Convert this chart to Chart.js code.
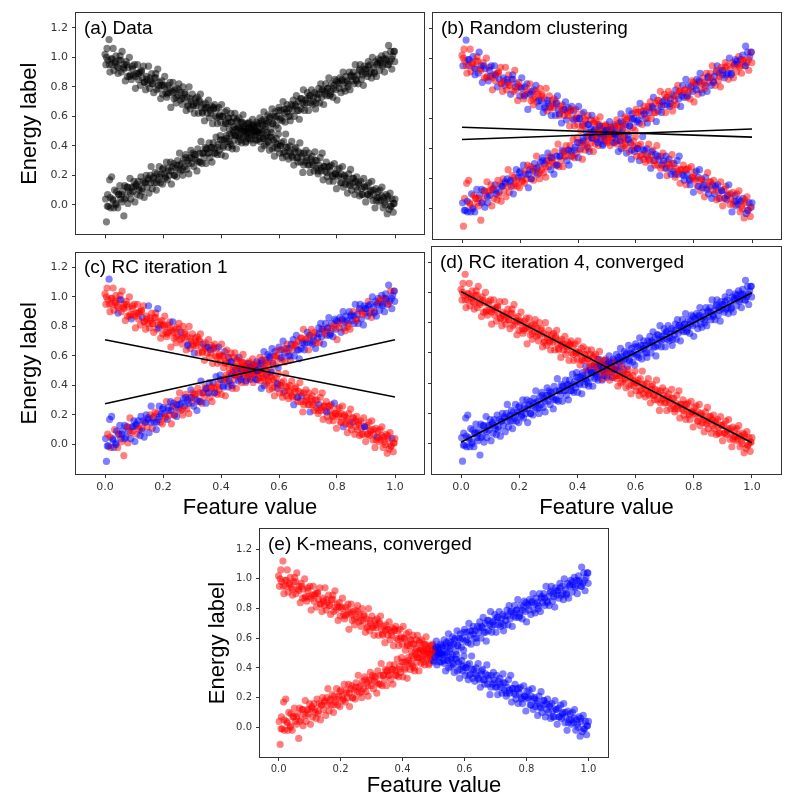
<!DOCTYPE html>
<html>
<head>
<meta charset="utf-8">
<title>Regression clustering panels</title>
<script src="https://cdn.jsdelivr.net/npm/chart.js@4.4.1/dist/chart.umd.min.js"></script>
<style>
    html, body { margin: 0; padding: 0; background: #fff; }
    body { position: relative; width: 791px; height: 812px; overflow: hidden; }
    canvas { position: absolute; display: block; }
</style>
</head>
<body>
<script>
// descending arm, [feature value, energy label]
const downArm = [
    [0.000,1.02],[0.003,0.95],[0.007,1.06],[0.010,0.98],[0.014,1.12],[0.017,0.90],[0.021,0.99],[0.024,0.95],[0.028,1.06],[0.031,0.91],
    [0.035,0.97],[0.038,1.01],[0.042,0.94],[0.045,0.89],[0.049,0.98],[0.052,1.01],[0.056,0.90],[0.059,1.04],[0.063,0.93],[0.066,0.95],
    [0.070,0.84],[0.073,0.97],[0.077,0.87],[0.080,0.93],[0.084,1.00],[0.087,0.88],[0.091,0.85],[0.094,0.94],[0.098,0.88],[0.101,0.95],
    [0.105,0.79],[0.108,0.89],[0.112,0.95],[0.115,0.85],[0.119,0.90],[0.122,0.81],[0.126,0.91],[0.129,0.86],[0.133,0.94],[0.136,0.83],
    [0.140,0.78],[0.143,0.87],[0.147,0.82],[0.150,0.94],[0.154,0.79],[0.157,0.84],[0.161,0.89],[0.164,0.82],[0.168,0.76],[0.171,0.86],
    [0.175,0.89],[0.178,0.78],[0.182,0.92],[0.185,0.81],[0.189,0.83],[0.192,0.72],[0.196,0.84],[0.199,0.75],[0.203,0.81],[0.206,0.87],
    [0.210,0.76],[0.213,0.73],[0.217,0.81],[0.220,0.76],[0.224,0.83],[0.227,0.66],[0.231,0.77],[0.234,0.83],[0.238,0.72],[0.241,0.78],
    [0.245,0.69],[0.248,0.79],[0.252,0.74],[0.255,0.82],[0.259,0.71],[0.262,0.76],[0.266,0.68],[0.269,0.80],[0.273,0.72],[0.276,0.76],
    [0.280,0.64],[0.283,0.73],[0.287,0.68],[0.290,0.80],[0.294,0.65],[0.297,0.70],[0.301,0.75],[0.304,0.68],[0.308,0.62],[0.311,0.72],
    [0.315,0.67],[0.318,0.73],[0.322,0.62],[0.325,0.71],[0.329,0.75],[0.332,0.66],[0.336,0.62],[0.339,0.68],[0.343,0.57],[0.346,0.69],
    [0.350,0.66],[0.353,0.62],[0.357,0.71],[0.360,0.59],[0.364,0.64],[0.367,0.67],[0.371,0.55],[0.374,0.65],[0.378,0.68],[0.381,0.60],
    [0.385,0.65],[0.388,0.55],[0.392,0.66],[0.395,0.60],[0.399,0.56],[0.402,0.68],[0.406,0.60],[0.409,0.52],[0.413,0.63],[0.416,0.56],
    [0.420,0.64],[0.423,0.55],[0.427,0.59],[0.430,0.48],[0.434,0.62],[0.437,0.56],[0.441,0.51],[0.444,0.59],[0.448,0.62],[0.451,0.51],
    [0.455,0.57],[0.458,0.53],[0.462,0.59],[0.465,0.48],[0.469,0.56],[0.472,0.50],[0.476,0.61],[0.479,0.50],[0.483,0.53],[0.486,0.43],
    [0.490,0.55],[0.493,0.49],[0.497,0.56],[0.500,0.45],[0.504,0.51],[0.507,0.52],[0.511,0.42],[0.514,0.54],[0.518,0.47],[0.521,0.50],
    [0.525,0.44],[0.528,0.54],[0.532,0.45],[0.535,0.48],[0.539,0.38],[0.542,0.50],[0.546,0.45],[0.549,0.40],[0.553,0.53],[0.556,0.41],
    [0.560,0.49],[0.563,0.43],[0.567,0.37],[0.570,0.46],[0.574,0.49],[0.577,0.38],[0.581,0.44],[0.584,0.33],[0.588,0.42],[0.591,0.45],
    [0.595,0.38],[0.598,0.48],[0.602,0.35],[0.605,0.40],[0.609,0.42],[0.612,0.32],[0.616,0.43],[0.619,0.36],[0.623,0.48],[0.626,0.33],
    [0.630,0.39],[0.633,0.31],[0.637,0.40],[0.640,0.35],[0.644,0.43],[0.647,0.32],[0.651,0.27],[0.654,0.36],[0.658,0.39],[0.661,0.32],
    [0.665,0.29],[0.668,0.36],[0.672,0.42],[0.675,0.29],[0.679,0.33],[0.682,0.22],[0.686,0.35],[0.689,0.29],[0.693,0.37],[0.696,0.30],
    [0.700,0.27],[0.703,0.35],[0.707,0.22],[0.710,0.31],[0.714,0.33],[0.717,0.27],[0.721,0.23],[0.724,0.36],[0.728,0.25],[0.731,0.30],
    [0.735,0.21],[0.738,0.27],[0.742,0.32],[0.745,0.23],[0.749,0.35],[0.752,0.17],[0.756,0.26],[0.759,0.23],[0.763,0.29],[0.766,0.19],
    [0.770,0.26],[0.773,0.16],[0.777,0.23],[0.780,0.27],[0.784,0.20],[0.787,0.16],[0.791,0.28],[0.794,0.21],[0.798,0.11],[0.801,0.24],
    [0.805,0.19],[0.808,0.25],[0.812,0.15],[0.815,0.21],[0.819,0.26],[0.822,0.12],[0.826,0.20],[0.829,0.14],[0.833,0.18],[0.836,0.08],
    [0.840,0.21],[0.843,0.14],[0.847,0.24],[0.850,0.10],[0.854,0.15],[0.857,0.18],[0.861,0.07],[0.864,0.16],[0.868,0.19],[0.871,0.10],
    [0.875,0.14],[0.878,0.06],[0.882,0.16],[0.885,0.11],[0.889,0.07],[0.892,0.18],[0.896,0.12],[0.899,0.02],[0.903,0.13],[0.906,0.07],
    [0.910,0.15],[0.913,0.06],[0.917,0.10],[0.920,0.16],[0.924,0.03],[0.927,0.07],[0.931,-0.02],[0.934,0.11],[0.938,0.05],[0.941,0.09],
    [0.945,0.02],[0.948,0.10],[0.952,0.03],[0.955,0.12],[0.959,-0.02],[0.962,0.05],[0.966,0.00],[0.969,0.07],[0.973,-0.06],[0.976,0.04],
    [0.980,-0.03],[0.983,0.08],[0.987,-0.01],[0.990,0.04],[0.994,-0.05],[0.997,0.01],[1.000,0.04]
];

// denser middle of the descending band
const downCore = [
    [0.005,1.00],[0.015,0.95],[0.025,0.99],[0.035,0.96],[0.045,0.93],[0.055,0.98],[0.065,0.92],[0.075,0.95],[0.085,0.87],[0.095,0.92],
    [0.105,0.87],[0.115,0.89],[0.125,0.90],[0.135,0.83],[0.145,0.85],[0.155,0.86],[0.165,0.82],[0.175,0.86],[0.185,0.79],[0.195,0.81],
    [0.205,0.80],[0.215,0.75],[0.225,0.79],[0.235,0.76],[0.245,0.73],[0.255,0.78],[0.265,0.72],[0.275,0.75],[0.285,0.67],[0.295,0.72],
    [0.305,0.67],[0.315,0.69],[0.325,0.70],[0.335,0.63],[0.345,0.65],[0.355,0.66],[0.365,0.62],[0.375,0.66],[0.385,0.59],[0.395,0.61],
    [0.405,0.60],[0.415,0.55],[0.425,0.59],[0.435,0.56],[0.445,0.53],[0.455,0.58],[0.465,0.52],[0.475,0.55],[0.485,0.47],[0.495,0.52],
    [0.505,0.47],[0.515,0.49],[0.525,0.50],[0.535,0.43],[0.545,0.45],[0.555,0.46],[0.565,0.42],[0.575,0.46],[0.585,0.39],[0.595,0.41],
    [0.605,0.40],[0.615,0.35],[0.625,0.39],[0.635,0.36],[0.645,0.33],[0.655,0.38],[0.665,0.32],[0.675,0.35],[0.685,0.27],[0.695,0.32],
    [0.705,0.27],[0.715,0.29],[0.725,0.30],[0.735,0.23],[0.745,0.25],[0.755,0.26],[0.765,0.22],[0.775,0.26],[0.785,0.19],[0.795,0.21],
    [0.805,0.20],[0.815,0.15],[0.825,0.19],[0.835,0.16],[0.845,0.13],[0.855,0.18],[0.865,0.12],[0.875,0.15],[0.885,0.07],[0.895,0.12],
    [0.905,0.07],[0.915,0.09],[0.925,0.10],[0.935,0.03],[0.945,0.05],[0.955,0.06],[0.965,0.02],[0.975,0.06],[0.985,-0.01],[0.995,0.01]
];

// ascending arm, [feature value, energy label]
const upArm = [
    [0.002,0.04],[0.005,-0.115],[0.009,0.07],[0.012,-0.01],[0.016,0.17],[0.019,-0.02],[0.023,0.19],[0.026,0.04],[0.030,-0.02],[0.033,0.10],
    [0.037,0.01],[0.040,0.09],[0.044,-0.02],[0.047,0.07],[0.051,0.13],[0.054,0.04],[0.058,0.02],[0.061,0.09],[0.065,-0.075],[0.068,0.13],
    [0.072,0.05],[0.075,0.12],[0.079,0.01],[0.082,0.09],[0.086,0.18],[0.089,0.04],[0.093,0.12],[0.096,0.09],[0.100,0.16],[0.103,0.02],
    [0.107,0.13],[0.110,0.07],[0.114,0.16],[0.117,0.12],[0.121,0.06],[0.124,0.19],[0.128,0.11],[0.131,0.16],[0.135,0.05],[0.138,0.15],
    [0.142,0.20],[0.145,0.12],[0.149,0.17],[0.152,0.08],[0.156,0.20],[0.159,0.26],[0.163,0.11],[0.166,0.18],[0.170,0.15],[0.173,0.22],
    [0.177,0.10],[0.180,0.21],[0.184,0.17],[0.187,0.26],[0.191,0.15],[0.194,0.21],[0.198,0.14],[0.201,0.25],[0.205,0.21],[0.208,0.18],
    [0.212,0.29],[0.215,0.17],[0.219,0.23],[0.222,0.20],[0.226,0.29],[0.229,0.14],[0.233,0.26],[0.236,0.28],[0.240,0.20],[0.243,0.25],
    [0.247,0.19],[0.250,0.30],[0.254,0.24],[0.257,0.35],[0.261,0.23],[0.264,0.28],[0.268,0.20],[0.271,0.31],[0.275,0.26],[0.278,0.34],
    [0.282,0.24],[0.285,0.30],[0.289,0.21],[0.292,0.32],[0.296,0.37],[0.299,0.28],[0.303,0.35],[0.306,0.26],[0.310,0.31],[0.313,0.34],
    [0.317,0.23],[0.320,0.38],[0.324,0.29],[0.327,0.35],[0.331,0.43],[0.334,0.28],[0.338,0.35],[0.341,0.32],[0.345,0.39],[0.348,0.28],
    [0.352,0.38],[0.355,0.35],[0.359,0.42],[0.362,0.32],[0.366,0.39],[0.369,0.29],[0.373,0.42],[0.376,0.38],[0.380,0.35],[0.383,0.46],
    [0.387,0.34],[0.390,0.41],[0.394,0.37],[0.397,0.47],[0.401,0.34],[0.404,0.44],[0.408,0.40],[0.411,0.44],[0.415,0.33],[0.418,0.47],
    [0.422,0.43],[0.425,0.39],[0.429,0.51],[0.432,0.41],[0.436,0.47],[0.439,0.38],[0.443,0.49],[0.446,0.44],[0.450,0.47],[0.453,0.38],
    [0.457,0.52],[0.460,0.43],[0.464,0.46],[0.467,0.51],[0.471,0.42],[0.474,0.56],[0.478,0.46],[0.481,0.51],[0.485,0.42],[0.488,0.50],
    [0.492,0.45],[0.495,0.55],[0.499,0.49],[0.502,0.44],[0.506,0.53],[0.509,0.58],[0.513,0.48],[0.516,0.53],[0.520,0.44],[0.523,0.56],
    [0.527,0.55],[0.530,0.51],[0.534,0.59],[0.537,0.49],[0.541,0.57],[0.544,0.54],[0.548,0.63],[0.551,0.51],[0.555,0.57],[0.558,0.47],
    [0.562,0.61],[0.565,0.56],[0.569,0.60],[0.572,0.51],[0.576,0.65],[0.579,0.55],[0.583,0.60],[0.586,0.63],[0.590,0.54],[0.593,0.60],
    [0.597,0.52],[0.600,0.66],[0.604,0.58],[0.607,0.64],[0.611,0.57],[0.614,0.70],[0.618,0.62],[0.621,0.56],[0.625,0.65],[0.628,0.68],
    [0.632,0.60],[0.635,0.65],[0.639,0.57],[0.642,0.68],[0.646,0.64],[0.649,0.71],[0.653,0.60],[0.656,0.68],[0.660,0.74],[0.663,0.64],
    [0.667,0.70],[0.670,0.58],[0.674,0.72],[0.677,0.65],[0.681,0.69],[0.684,0.78],[0.688,0.64],[0.691,0.71],[0.695,0.69],[0.698,0.76],
    [0.702,0.64],[0.705,0.74],[0.709,0.69],[0.712,0.78],[0.716,0.68],[0.719,0.73],[0.723,0.76],[0.726,0.65],[0.730,0.75],[0.733,0.72],
    [0.737,0.79],[0.740,0.69],[0.744,0.82],[0.747,0.73],[0.751,0.78],[0.754,0.68],[0.758,0.77],[0.761,0.82],[0.765,0.74],[0.768,0.79],
    [0.772,0.86],[0.775,0.74],[0.779,0.77],[0.782,0.82],[0.786,0.73],[0.789,0.81],[0.793,0.85],[0.796,0.78],[0.800,0.71],[0.803,0.83],
    [0.807,0.82],[0.810,0.86],[0.814,0.76],[0.817,0.84],[0.821,0.90],[0.824,0.79],[0.828,0.77],[0.831,0.87],[0.835,0.84],[0.838,0.82],
    [0.842,0.90],[0.845,0.78],[0.849,0.88],[0.852,0.84],[0.856,0.90],[0.859,0.82],[0.863,0.95],[0.866,0.85],[0.870,0.88],[0.873,0.82],
    [0.877,0.91],[0.880,0.95],[0.884,0.85],[0.887,0.90],[0.891,0.81],[0.894,0.94],[0.898,0.89],[0.901,0.92],[0.905,0.87],[0.908,0.97],
    [0.912,0.89],[0.915,0.95],[0.919,0.86],[0.922,1.00],[0.926,0.93],[0.929,0.90],[0.933,0.97],[0.936,0.87],[0.940,0.96],[0.943,0.99],
    [0.947,0.91],[0.950,0.96],[0.954,1.01],[0.957,0.94],[0.961,0.99],[0.964,0.90],[0.968,1.02],[0.971,0.98],[0.975,0.95],[0.978,1.08],
    [0.982,0.97],[0.985,1.04],[0.989,0.92],[0.992,1.01],[0.996,1.04],[0.999,0.97]
];

// denser middle of the ascending band
const upCore = [
    [0.008,-0.01],[0.018,0.05],[0.028,0.03],[0.038,0.00],[0.048,0.07],[0.058,0.07],[0.068,0.04],[0.078,0.12],[0.088,0.08],[0.098,0.12],
    [0.108,0.14],[0.118,0.10],[0.128,0.09],[0.138,0.15],[0.148,0.18],[0.158,0.15],[0.168,0.19],[0.178,0.15],[0.188,0.19],[0.198,0.24],
    [0.208,0.19],[0.218,0.25],[0.228,0.23],[0.238,0.20],[0.248,0.27],[0.258,0.27],[0.268,0.24],[0.278,0.32],[0.288,0.28],[0.298,0.32],
    [0.308,0.34],[0.318,0.30],[0.328,0.29],[0.338,0.35],[0.348,0.38],[0.358,0.35],[0.368,0.39],[0.378,0.35],[0.388,0.39],[0.398,0.44],
    [0.408,0.39],[0.418,0.45],[0.428,0.43],[0.438,0.40],[0.448,0.47],[0.458,0.47],[0.468,0.44],[0.478,0.52],[0.488,0.48],[0.498,0.52],
    [0.508,0.54],[0.518,0.50],[0.528,0.49],[0.538,0.55],[0.548,0.58],[0.558,0.55],[0.568,0.59],[0.578,0.55],[0.588,0.59],[0.598,0.64],
    [0.608,0.59],[0.618,0.65],[0.628,0.63],[0.638,0.60],[0.648,0.67],[0.658,0.67],[0.668,0.64],[0.678,0.72],[0.688,0.68],[0.698,0.72],
    [0.708,0.74],[0.718,0.70],[0.728,0.69],[0.738,0.75],[0.748,0.78],[0.758,0.75],[0.768,0.79],[0.778,0.75],[0.788,0.79],[0.798,0.84],
    [0.808,0.79],[0.818,0.85],[0.828,0.83],[0.838,0.80],[0.848,0.87],[0.858,0.87],[0.868,0.84],[0.878,0.92],[0.888,0.88],[0.898,0.92],
    [0.908,0.94],[0.918,0.90],[0.928,0.89],[0.938,0.95],[0.948,0.98],[0.958,0.95],[0.968,0.99],[0.978,0.95],[0.988,0.99],[0.998,1.04]
];

// cluster assignments (b) and (c): r = red cluster, b = blue cluster
// (arm points first, then the core points)
const randomDown =
    'rbrrbrbbrrrbrbrrbbrb' + 'brrbrrbrbbrrbrrbrbrr' + 'rbbrrbrrbrbrrbbrrbrb' + 'rrbrbbrrrbrbrbrrbrbr' +
    'brbrrbrbbrrrbrbbrrbr' + 'rrbbrbrrbrbrrbrbbrrb' + 'brrbrbrrbbrbrrrbrbrb' + 'rbrrbbrbrrbrbrbrrbbr' +
    'rrbrbrbbrrbrrbrbrrbr' + 'brbbrrbrrbrbrrbbrbrr' + 'rbrrbrbrbbrrbrbrrbrb' + 'rrbrbbrrbrrbrbbrrbrr' +
    'brrbrrbbrbrrbrbrbrrb' + 'rbrbrrbrrbbrbrrbrbrr' + 'brrbrbbrrbrbrrbrbrbr' +
    'rrbrbrrbbrbrrbrbbrrb' + 'brbrrbrbrrbbrrbrbrrb' + 'rbrrbbrbrbrrbrbrbbrr' + 'brrbrbrrbrbbrrbrbrbr' +
    'rbbrrbrbrrbrbrrbbrbr';
const randomUp =
    'brrbrbrrbbrrbrbrrbrb' + 'rbbrrbrbrrbrbbrrbrrb' + 'rrbrbrrbbrbrrbrbrbbr' + 'brbrrbbrrbrbrrbrrbrb' +
    'rbrbbrrbrrbrbbrrbrbr' + 'brrbrbrbbrrbrrbrbrrb' + 'rrbbrbrrbrbrbbrrbrbr' + 'brbrrbrbrrbbrbrrbrrb' +
    'rbrrbbrbrbrrbrbbrrbr' + 'brbrbrrbbrrbrbrrbbrr' + 'rrbrbbrrbrbrrbrbrbbr' + 'brrbrbrbrrbbrrbrbrrb' +
    'rbbrrbrrbrbbrbrrbrbr' + 'brrbrbrrbbrbrrbrbrrb' + 'rbrbrrbbrbrrbrbrrbrb' +
    'brbrrbrrbbrbrbrrbrbb' + 'rrbrbbrbrrbrbrbbrrbr' + 'brrbbrbrbrrbrrbbrbrr' + 'rbrbrrbbrrbrbrrbrbbr' +
    'brrbrbrbbrrbrbrrbbrb';
const iter1Down =
    'rrrrbrrrrrrrrbrrrrrr' + 'rrrrrrbrrrrrrrrrrbrr' + 'rrrbrrrrrrrrbrrrrrrr' + 'rrrrrrrbrrrrrrrbrrrr' +
    'rrbrrrrrbrrrrrrrrbrr' + 'rrrrbrrbrrrrbrrrrrbr' + 'rrbrrbrrrbrrbrrbrrrb' + 'rbrrbrrbrrbrrrbrrbrr' +
    'rrrrbrrrrrbrrrrrrbrr' + 'rrrrrrbrrrrrrrbrrrrr' + 'rrbrrrrrrrrbrrrrrrrr' + 'rrrrrrbrrrrrrrrbrrrr' +
    'rrrrbrrrrrrrrrrrbrrr' + 'rrrrrrrrbrrrrrrrrrrr' + 'rrrbrrrrrrrrbrrrrrrr' +
    'rrrrrbrrrrrrrrrbrrrr' + 'rrbrrrrrrrbrrrrrrrrb' + 'rrrrrrbrrrrrrbrrrrrr' + 'rrrbrrrrrrrrrrrrbrrr' +
    'rrrrrrrrbrrrrrrbrrrr';
const iter1Up =
    'bbrbbrbbbrbbrbbbrbrb' + 'bbrbrbbrbbbrbrbbrbbr' + 'brbbrbrbbrbrbbrbrbbr' + 'rbbrbrrbbrbrbrrbrbbr' +
    'rbrrbrrbrrbrrrbrbrrb' + 'rrbrrrbrrbrrrbrrbrrr' + 'rbrrbrrrbrrbrbrrbrrb' + 'rbrbrrbrbbrbrrbrbrbb' +
    'brbrbbrbrrbbrbrbbrbr' + 'bbrbrbbrbbrbrbbrbrbb' + 'rbbrbbrbrbbrbbrbrbbr' + 'bbrbbrbbrbrbbrbbrbbr' +
    'brbbrbbrbbrbbrbbrbbr' + 'bbrbbrbbrbbrbbrbbrbb' + 'brbbrbbrbbrbbrrbbrbb' +
    'bbrbbbrbbrbbrbbbrbbr' + 'bbrbrbbrbbrrbrrbrrrb' + 'rrbrrrbrrbrrbrbrrbrb' + 'brbbrbrbbrbbrbrbbrbb' +
    'rbbrbbrbbrbrbbrbbrbb';

// k-means boundary on the feature value, panel (e)
const kmeansSplit = 0.5;

// fitted lines: energy label at feature value 0 and at 1
const fitX = [0, 1];
const randomFitA = [0.542, 0.476];
const randomFitB = [0.460, 0.530];
const iter1FitA = [0.710, 0.322];
const iter1FitB = [0.276, 0.710];
const convFitA = [1.005, 0.006];
const convFitB = [0.010, 0.998];

const xTickValues = [0, 0.2, 0.4, 0.6, 0.8, 1.0];
const yTickValues = [0, 0.2, 0.4, 0.6, 0.8, 1.0, 1.2];

const RED = 'rgba(255, 0, 0, 0.5)';
const BLUE = 'rgba(0, 0, 255, 0.5)';
const BLACK = 'rgba(0, 0, 0, 0.5)';
const AXIS = '#333';

const downAll = downArm.concat(downCore);
const upAll = upArm.concat(upCore);

// merge both arms point by point so neither arm is painted entirely on top
const mergeArms = (colorDown, colorUp) => {
    const pts = [];
    const colors = [];
    const n = Math.max(downAll.length, upAll.length);
    for (let i = 0; i < n; i += 1) {
        if (i < downAll.length) {
            pts.push({ x: downAll[i][0], y: downAll[i][1] });
            colors.push(colorDown(downAll[i], i));
        }
        if (i < upAll.length) {
            pts.push({ x: upAll[i][0], y: upAll[i][1] });
            colors.push(colorUp(upAll[i], i));
        }
    }
    return { pts, colors };
};

const fromLabels = (labels) => (p, i) => (labels[i] === 'b' ? BLUE : RED);
const byKmeans = (p) => (p[0] < kmeansSplit ? RED : BLUE);

const fitLine = (ends) => ({
    type: 'line',
    data: fitX.map((x, i) => ({ x, y: ends[i] })),
    borderColor: '#000',
    borderWidth: 1.6,
    pointRadius: 0,
    fill: false,
    order: 0,
});

const panels = [
    {
        tag: '(a) Data',
        canvas: [0, 0, 430, 245], plot: [76, 13, 424, 239],
        xRange: [-0.1, 1.1], yRange: [-0.2, 1.3],
        xLabels: false, yLabels: true, xTitle: false, yTitle: true,
        colors: [() => BLACK, () => BLACK], fits: [],
    },
    {
        tag: '(b) Random clustering',
        canvas: [428, 0, 363, 245], plot: [433, 13, 781, 239],
        xRange: [-0.1, 1.1], yRange: [-0.2, 1.3],
        xLabels: false, yLabels: false, xTitle: false, yTitle: false,
        colors: [fromLabels(randomDown), fromLabels(randomUp)], fits: [randomFitA, randomFitB],
    },
    {
        tag: '(c) RC iteration 1',
        canvas: [0, 242, 430, 290], plot: [76, 247, 424, 474],
        xRange: [-0.1, 1.1], yRange: [-0.2, 1.3],
        xLabels: true, yLabels: true, xTitle: true, yTitle: true,
        colors: [fromLabels(iter1Down), fromLabels(iter1Up)], fits: [iter1FitA, iter1FitB],
    },
    {
        tag: '(d) RC iteration 4, converged',
        canvas: [428, 242, 363, 290], plot: [432, 247, 781, 474],
        xRange: [-0.1, 1.1], yRange: [-0.2, 1.3],
        xLabels: true, yLabels: false, xTitle: true, yTitle: false,
        colors: [() => RED, () => BLUE], fits: [convFitA, convFitB],
    },
    {
        tag: '(e) K-means, converged',
        canvas: [180, 515, 440, 297], plot: [260, 529, 608, 757],
        xRange: [-0.06, 1.063], yRange: [-0.2, 1.336],
        xLabels: true, yLabels: true, xTitle: true, yTitle: true, small: true,
        colors: [byKmeans, byKmeans], fits: [],
    },
];

const framePlugin = {
    id: 'frame',
    afterDraw(chart, args, opts) {
        const { ctx, chartArea: a } = chart;
        ctx.save();
        ctx.strokeStyle = AXIS;
        ctx.lineWidth = 1;
        ctx.strokeRect(Math.round(a.left) - 0.5, Math.round(a.top) - 0.5,
            Math.round(a.right - a.left) + 1, Math.round(a.bottom - a.top) + 1);
        ctx.fillStyle = '#000';
        ctx.font = '19px "Liberation Sans", Arial, sans-serif';
        ctx.textAlign = 'left';
        ctx.textBaseline = 'alphabetic';
        ctx.fillText(opts.text, a.left + 8, a.top + 20.5);
        ctx.restore();
    },
};

const titleFont = { family: '"Liberation Sans", Arial, sans-serif', size: 22, lineHeight: 1.2 };

const buildPanel = (panel) => {
    const [cl, ct, cw, ch] = panel.canvas;
    const [pl, pt, pr, pb] = panel.plot;
    const canvas = document.createElement('canvas');
    canvas.width = cw;
    canvas.height = ch;
    canvas.style.left = cl + 'px';
    canvas.style.top = ct + 'px';
    canvas.style.width = cw + 'px';
    canvas.style.height = ch + 'px';
    document.body.appendChild(canvas);

    const tickFont = { family: '"DejaVu Sans", sans-serif', size: panel.small ? 10 : 11 };
    const yTitleCenter = panel.small ? 37.5 : 30;
    const xTitleCenter = panel.small ? 785.5 : 508;
    const lh = titleFont.size * titleFont.lineHeight;

    const { pts, colors } = mergeArms(panel.colors[0], panel.colors[1]);
    const datasets = panel.fits.map(fitLine);
    datasets.push({
        type: 'scatter',
        data: pts,
        pointBackgroundColor: colors,
        pointBorderWidth: 0,
        pointRadius: 3.6,
        pointHoverRadius: 3.6,
        order: 1,
    });

    const gridOpts = {
        drawOnChartArea: false,
        drawTicks: true,
        tickLength: 4,
        color: AXIS,
        tickColor: AXIS,
        lineWidth: 1,
    };

    return new Chart(canvas, {
        type: 'scatter',
        data: { datasets },
        plugins: [framePlugin],
        options: {
            responsive: false,
            animation: false,
            events: [],
            layout: {
                autoPadding: false,
                padding: { left: 0, top: pt - ct, right: cl + cw - pr, bottom: 0 },
            },
            plugins: {
                legend: { display: false },
                tooltip: { enabled: false },
                frame: { text: panel.tag },
            },
            scales: {
                x: {
                    type: 'linear',
                    min: panel.xRange[0],
                    max: panel.xRange[1],
                    afterBuildTicks: (scale) => { scale.ticks = xTickValues.map((value) => ({ value })); },
                    afterFit: (scale) => { scale.height = ct + ch - pb; },
                    grid: gridOpts,
                    border: { display: false },
                    ticks: {
                        display: panel.xLabels,
                        font: tickFont,
                        color: AXIS,
                        padding: panel.small ? 2 : 3,
                        maxRotation: 0,
                        callback: (v) => Number(v).toFixed(1),
                    },
                    title: {
                        display: panel.xTitle,
                        text: 'Feature value',
                        color: '#000',
                        font: titleFont,
                        padding: { top: 0, bottom: ct + ch - xTitleCenter - lh / 2 },
                    },
                },
                y: {
                    type: 'linear',
                    min: panel.yRange[0],
                    max: panel.yRange[1],
                    afterBuildTicks: (scale) => { scale.ticks = yTickValues.map((value) => ({ value })); },
                    afterFit: (scale) => { scale.width = pl - cl; },
                    grid: gridOpts,
                    border: { display: false },
                    ticks: {
                        display: panel.yLabels,
                        font: tickFont,
                        color: AXIS,
                        padding: 4,
                        callback: (v) => Number(v).toFixed(1),
                    },
                    title: {
                        display: panel.yTitle,
                        text: 'Energy label',
                        color: '#000',
                        font: titleFont,
                        padding: { top: yTitleCenter - lh / 2, bottom: 0 },
                    },
                },
            },
        },
    });
};

panels.forEach(buildPanel);
</script>
</body>
</html>
